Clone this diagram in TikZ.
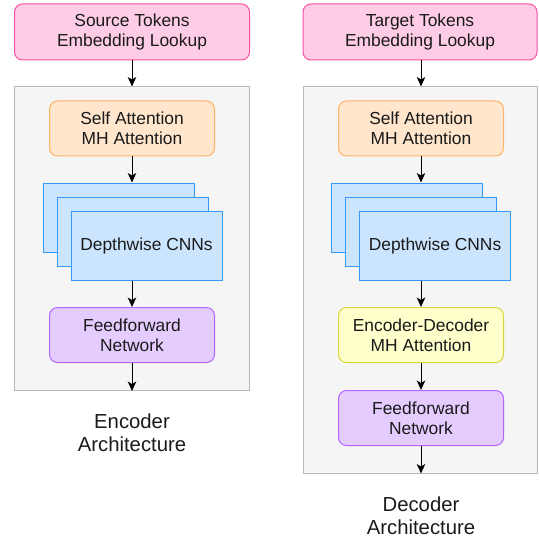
\documentclass[tikz,border=0pt]{standalone}
\usepackage{fontspec}
\setmainfont{Liberation Sans}
\usetikzlibrary{arrows.meta}
\definecolor{pinkfill}{HTML}{FFCCE6}
\definecolor{pinkdraw}{HTML}{FF4FA0}
\definecolor{orfill}{HTML}{FFE6CC}
\definecolor{ordraw}{HTML}{FFB366}
\definecolor{blfill}{HTML}{CCE5FF}
\definecolor{bldraw}{HTML}{3399FF}
\definecolor{yefill}{HTML}{FFFFCC}
\definecolor{yedraw}{HTML}{D6D63A}
\definecolor{pufill}{HTML}{E5CCFF}
\definecolor{pudraw}{HTML}{B266FF}
\definecolor{grfill}{HTML}{F5F5F5}
\definecolor{grdraw}{HTML}{B8B8B8}
\definecolor{txt}{HTML}{1A1A1A}
\tikzset{
  box/.style={rectangle, rounded corners=8pt, minimum width=165pt, minimum height=55pt,
    align=center, inner sep=0pt, line width=1pt, text=txt, font=\fontsize{17.4}{20.4}\selectfont},
  pinkbox/.style={box, fill=pinkfill, draw=pinkdraw, minimum width=235pt, minimum height=56pt},
  orbox/.style={box, fill=orfill, draw=ordraw},
  yebox/.style={box, fill=yefill, draw=yedraw},
  pubox/.style={box, fill=pufill, draw=pudraw},
  cnnbox/.style={rectangle, fill=blfill, draw=bldraw, line width=1pt, minimum width=151pt,
    minimum height=69pt, inner sep=0pt, text=txt, font=\fontsize{17.4}{20.4}\selectfont},
  panel/.style={rectangle, fill=grfill, draw=grdraw, line width=1pt, inner sep=0pt},
  caption/.style={align=center, text=txt, font=\fontsize{20.3}{23}\selectfont},
  flow/.style={-{Stealth[length=9.5pt, width=8.5pt, inset=2.5pt]}, line width=1pt, black}
}
\begin{document}
\begin{tikzpicture}[x=1pt, y=-1pt]
\useasboundingbox (0,0) rectangle (538,540);

% ---------- Encoder ----------
\node[panel, minimum width=235pt, minimum height=303.5pt] (enc) at (132,238.75) {};
\node[pinkbox] (src) at (132,32) {Source Tokens\\Embedding Lookup};
\node[orbox] (esa) at (132,128.5) {Self Attention\\MH Attention};
\node[cnnbox] (ecnn1) at (118.5,217.5) {};
\node[cnnbox] (ecnn2) at (133,231.5) {};
\node[cnnbox] (ecnn3) at (146.5,245.5) {Depthwise CNNs};
\node[pubox] (eff) at (132,335) {Feedforward\\Network};
\node[caption] (ecap) at (132,433) {Encoder\\Architecture};

\draw[flow] (src.south) -- (enc.north);
\draw[flow] (esa.south) -- (esa.south |- ecnn1.north);
\draw[flow] (eff.north |- ecnn3.south) -- (eff.north);
\draw[flow] (eff.south) -- (enc.south);

% ---------- Decoder ----------
\node[panel, minimum width=234pt, minimum height=386pt] (dec) at (420,280) {};
\node[pinkbox, minimum width=234pt] (tgt) at (420,32) {Target Tokens\\Embedding Lookup};
\node[orbox] (dsa) at (421,128.5) {Self Attention\\MH Attention};
\node[cnnbox] (dcnn1) at (406.5,217.5) {};
\node[cnnbox] (dcnn2) at (421,231.5) {};
\node[cnnbox] (dcnn3) at (435,245.5) {Depthwise CNNs};
\node[yebox] (edm) at (421,335) {Encoder-Decoder\\MH Attention};
\node[pubox] (dff) at (421,418) {Feedforward\\Network};
\node[caption] (dcap) at (421,516) {Decoder\\Architecture};

\draw[flow] (tgt.south -| dsa.north) -- (dsa.north |- dec.north);
\draw[flow] (dsa.south) -- (dsa.south |- dcnn1.north);
\draw[flow] (edm.north |- dcnn3.south) -- (edm.north);
\draw[flow] (edm.south) -- (dff.north);
\draw[flow] (dff.south) -- (dff.south |- dec.south);
\end{tikzpicture}
\end{document}
